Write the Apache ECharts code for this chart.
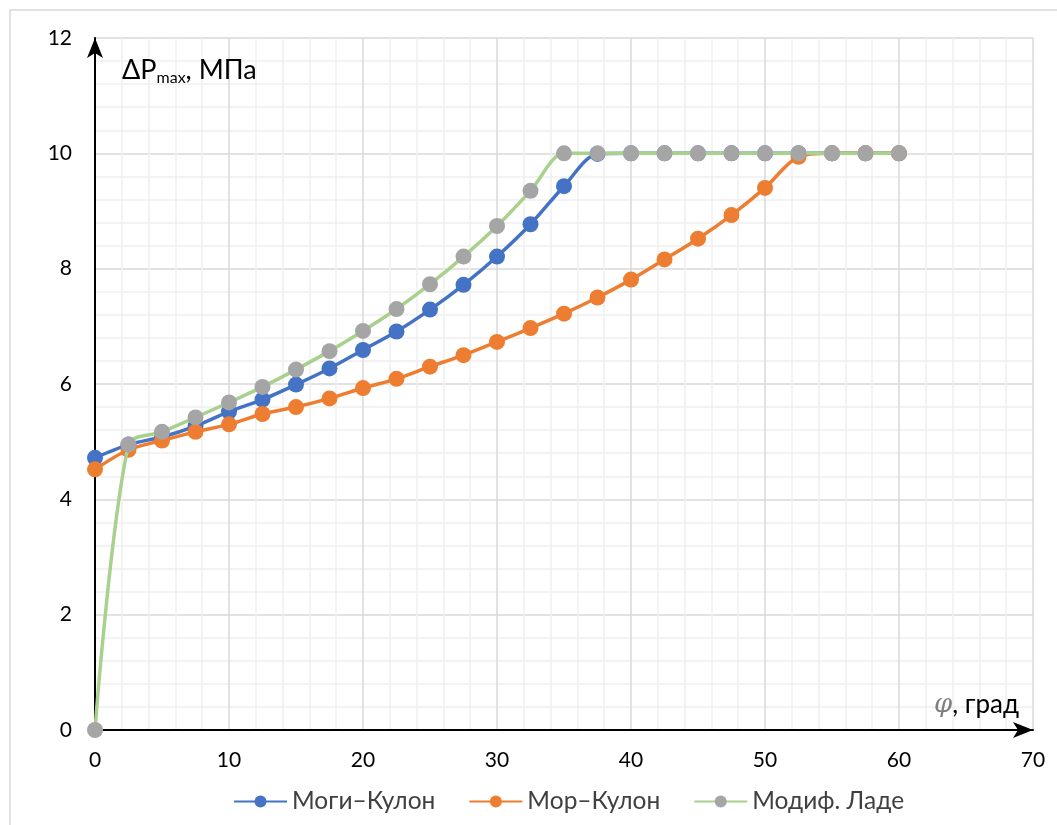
<!DOCTYPE html>
<html>
<head>
<meta charset="utf-8">
<script src="https://cdn.jsdelivr.net/npm/echarts@6/dist/echarts.min.js"></script>
<style>html,body{margin:0;padding:0;background:#fff}#c{width:1057px;height:825px}</style>
</head>
<body>
<div id="c"></div>
<script>
var phi = [0, 2.5, 5, 7.5, 10, 12.5, 15, 17.5, 20, 22.5, 25, 27.5, 30, 32.5, 35, 37.5, 40, 42.5, 45, 47.5, 50, 52.5, 55, 57.5, 60];
var mogiCoulomb = [4.72, 4.95, 5.08, 5.27, 5.52, 5.73, 5.99, 6.27, 6.59, 6.91, 7.29, 7.72, 8.21, 8.77, 9.43, 9.99, 10, 10, 10, 10, 10, 10, 10, 10, 10];
var mohrCoulomb = [4.52, 4.86, 5.02, 5.17, 5.30, 5.48, 5.60, 5.75, 5.93, 6.09, 6.30, 6.50, 6.73, 6.97, 7.22, 7.50, 7.81, 8.16, 8.52, 8.93, 9.40, 9.94, 10, 10, 10];
var modLade = [0, 4.95, 5.17, 5.42, 5.68, 5.95, 6.25, 6.57, 6.92, 7.30, 7.73, 8.21, 8.74, 9.35, 10, 10, 10, 10, 10, 10, 10, 10, 10, 10, 10];
var seriesNames = ['Моги–Кулон', 'Мор–Кулон', 'Модиф. Ладе'];
var xTicks = [0, 10, 20, 30, 40, 50, 60, 70];
var yTicks = [0, 2, 4, 6, 8, 10, 12];

function pairs(ys) { return phi.map(function (x, i) { return [x, ys[i]]; }); }

var FONT = 'Lato, "Open Sans", sans-serif';
var chart = echarts.init(document.getElementById('c'), null, { renderer: 'canvas' });
chart.setOption({
  animation: false,
  backgroundColor: '#fff',
  grid: { left: 95, right: 24, top: 38, bottom: 95, containLabel: false },
  xAxis: {
    type: 'value', min: xTicks[0], max: xTicks[xTicks.length - 1], interval: 10,
    axisLine: { show: true, symbol: ['none', 'arrow'], symbolSize: [12, 20], lineStyle: { color: '#000', width: 2 } },
    axisTick: { show: false },
    axisLabel: { color: '#000', fontSize: 21, fontFamily: FONT, margin: 20 },
    splitLine: { show: true, lineStyle: { color: '#d9d9d9', width: 1.5 } },
    minorTick: { show: false, splitNumber: 5 },
    minorSplitLine: { show: true, lineStyle: { color: '#efefef', width: 1.5 } }
  },
  yAxis: {
    type: 'value', min: yTicks[0], max: yTicks[yTicks.length - 1], interval: 2,
    axisLine: { show: true, symbol: ['none', 'arrow'], symbolSize: [12, 20], lineStyle: { color: '#000', width: 2 } },
    axisTick: { show: false },
    axisLabel: { color: '#000', fontSize: 21, fontFamily: FONT, margin: 23 },
    splitLine: { show: true, lineStyle: { color: '#d9d9d9', width: 1.5 } },
    minorTick: { show: false, splitNumber: 5 },
    minorSplitLine: { show: true, lineStyle: { color: '#efefef', width: 1.5 } }
  },
  legend: {
    bottom: 6, left: 228, itemWidth: 53, itemHeight: 15, itemGap: 33,
    textStyle: { fontSize: 24.5, fontFamily: FONT, color: '#404040' },
    data: seriesNames
  },
  graphic: [
    { type: 'rect', shape: { x: 10, y: 10, width: 1100, height: 900 }, style: { fill: 'none', stroke: '#d9d9d9', lineWidth: 1.5 }, silent: true, z: -10 },
    { type: 'text', left: 122, top: 57, z: 100, style: {
        text: '{a|ΔP}{s|max}{a|, МПа}',
        rich: {
          a: { fontSize: 27, fontFamily: FONT, fill: '#000' },
          s: { fontSize: 16, fontFamily: FONT, fill: '#000', padding: [14, 0, 0, 0] }
        } } },
    { type: 'text', left: 934, top: 692, z: 100, style: {
        text: '{p|φ}{a|, град}',
        rich: {
          p: { fontSize: 26, fontFamily: '"DejaVu Serif", serif', fontStyle: 'italic', fill: '#7f7f7f' },
          a: { fontSize: 26, fontFamily: FONT, fill: '#000' }
        } } }
  ],
  series: [
    { name: seriesNames[0], type: 'line', data: pairs(mogiCoulomb), smooth: 0.3,
      symbol: 'circle', symbolSize: 16, showAllSymbol: true,
      itemStyle: { color: '#4472C4' }, lineStyle: { color: '#4472C4', width: 3.5 }, z: 2 },
    { name: seriesNames[1], type: 'line', data: pairs(mohrCoulomb), smooth: 0.3,
      symbol: 'circle', symbolSize: 16, showAllSymbol: true,
      itemStyle: { color: '#ED7D31' }, lineStyle: { color: '#ED7D31', width: 3.5 }, z: 3 },
    { name: seriesNames[2], type: 'line', data: pairs(modLade), smooth: 0.3,
      symbol: 'circle', symbolSize: 16, showAllSymbol: true,
      itemStyle: { color: '#A5A5A5' }, lineStyle: { color: '#A9D18E', width: 3.5 }, z: 4 }
  ]
});
</script>
</body>
</html>
